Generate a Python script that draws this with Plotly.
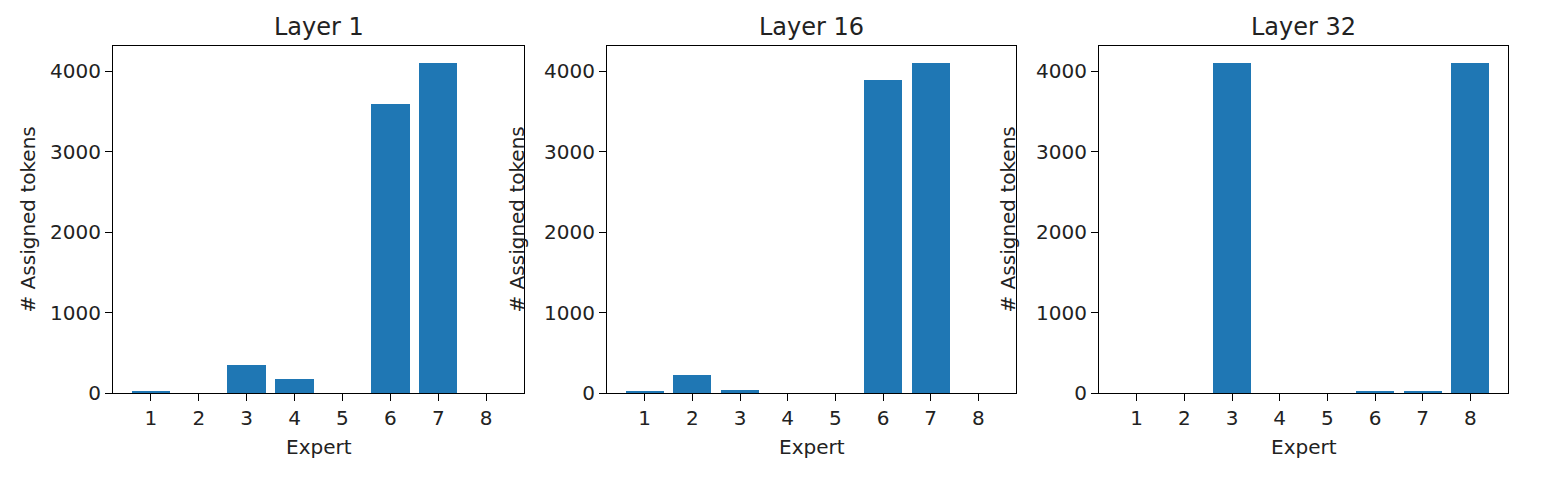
import plotly.graph_objects as go

experts = [1, 2, 3, 4, 5, 6, 7, 8]
layer_titles = ["Layer 1", "Layer 16", "Layer 32"]
layer1 = [15, 0, 348, 178, 0, 3590, 4110, 0]
layer16 = [15, 224, 40, 0, 0, 3895, 4110, 0]
layer32 = [0, 0, 4110, 0, 0, 18, 18, 4110]
series = [layer1, layer16, layer32]
tick_vals = [0, 1000, 2000, 3000, 4000]

W, H = 1543, 478
OFF = 8  # page body margin offset in the screenshot
x_px = [(113, 524), (607, 1016), (1099, 1508)]
ylab_px = [28, 517, 1008]
y_top, y_bot = 46, 393


def px(v):
    return (v - OFF)


font = "DejaVu Sans"
fig = go.Figure()
annotations = []
for i, (vals, title) in enumerate(zip(series, layer_titles)):
    n = "" if i == 0 else str(i + 1)
    fig.add_trace(go.Bar(x=experts, y=vals, width=0.8, marker=dict(color="#1f77b4", line=dict(width=0)),
                         xaxis="x" + n, yaxis="y" + n, showlegend=False))
    x0, x1 = x_px[i]
    dom = [px(x0) / W, px(x1) / W]
    ymax = max(vals) * 1.05
    axis_common = dict(showline=True, linecolor="black", linewidth=1, mirror=True, ticks="outside",
                       ticklen=7, tickwidth=1, tickcolor="black", showgrid=False, zeroline=False,
                       automargin=False, tickfont=dict(family=font, size=20, color="#222"))
    fig.update_layout(**{
        "xaxis" + n: dict(domain=dom, range=[0.21, 8.79], tickvals=experts, anchor="y" + n, **axis_common),
        "yaxis" + n: dict(domain=[1 - px(y_bot) / H, 1 - px(y_top) / H], range=[0, ymax], tickvals=tick_vals,
                          anchor="x" + n, **axis_common),
    })
    cx = (px(x0) + px(x1)) / 2 / W
    annotations.append(dict(text=title, x=cx, y=1 - px(27) / H, xref="paper", yref="paper", showarrow=False,
                            font=dict(family=font, size=24, color="#222"), xanchor="center", yanchor="middle"))
    annotations.append(dict(text="Expert", x=cx, y=1 - px(447) / H, xref="paper", yref="paper", showarrow=False,
                            font=dict(family=font, size=20, color="#222"), xanchor="center", yanchor="middle"))
    annotations.append(dict(text="# Assigned tokens", x=px(ylab_px[i]) / W, y=1 - px(219.5) / H, xref="paper",
                            yref="paper", showarrow=False, textangle=-90,
                            font=dict(family=font, size=20, color="#222"), xanchor="center", yanchor="middle"))

fig.update_layout(width=W, height=H, margin=dict(l=0, r=0, t=0, b=0, autoexpand=False), plot_bgcolor="white",
                  paper_bgcolor="white", annotations=annotations, bargap=0, template="none")
fig.write_html("out.html")
